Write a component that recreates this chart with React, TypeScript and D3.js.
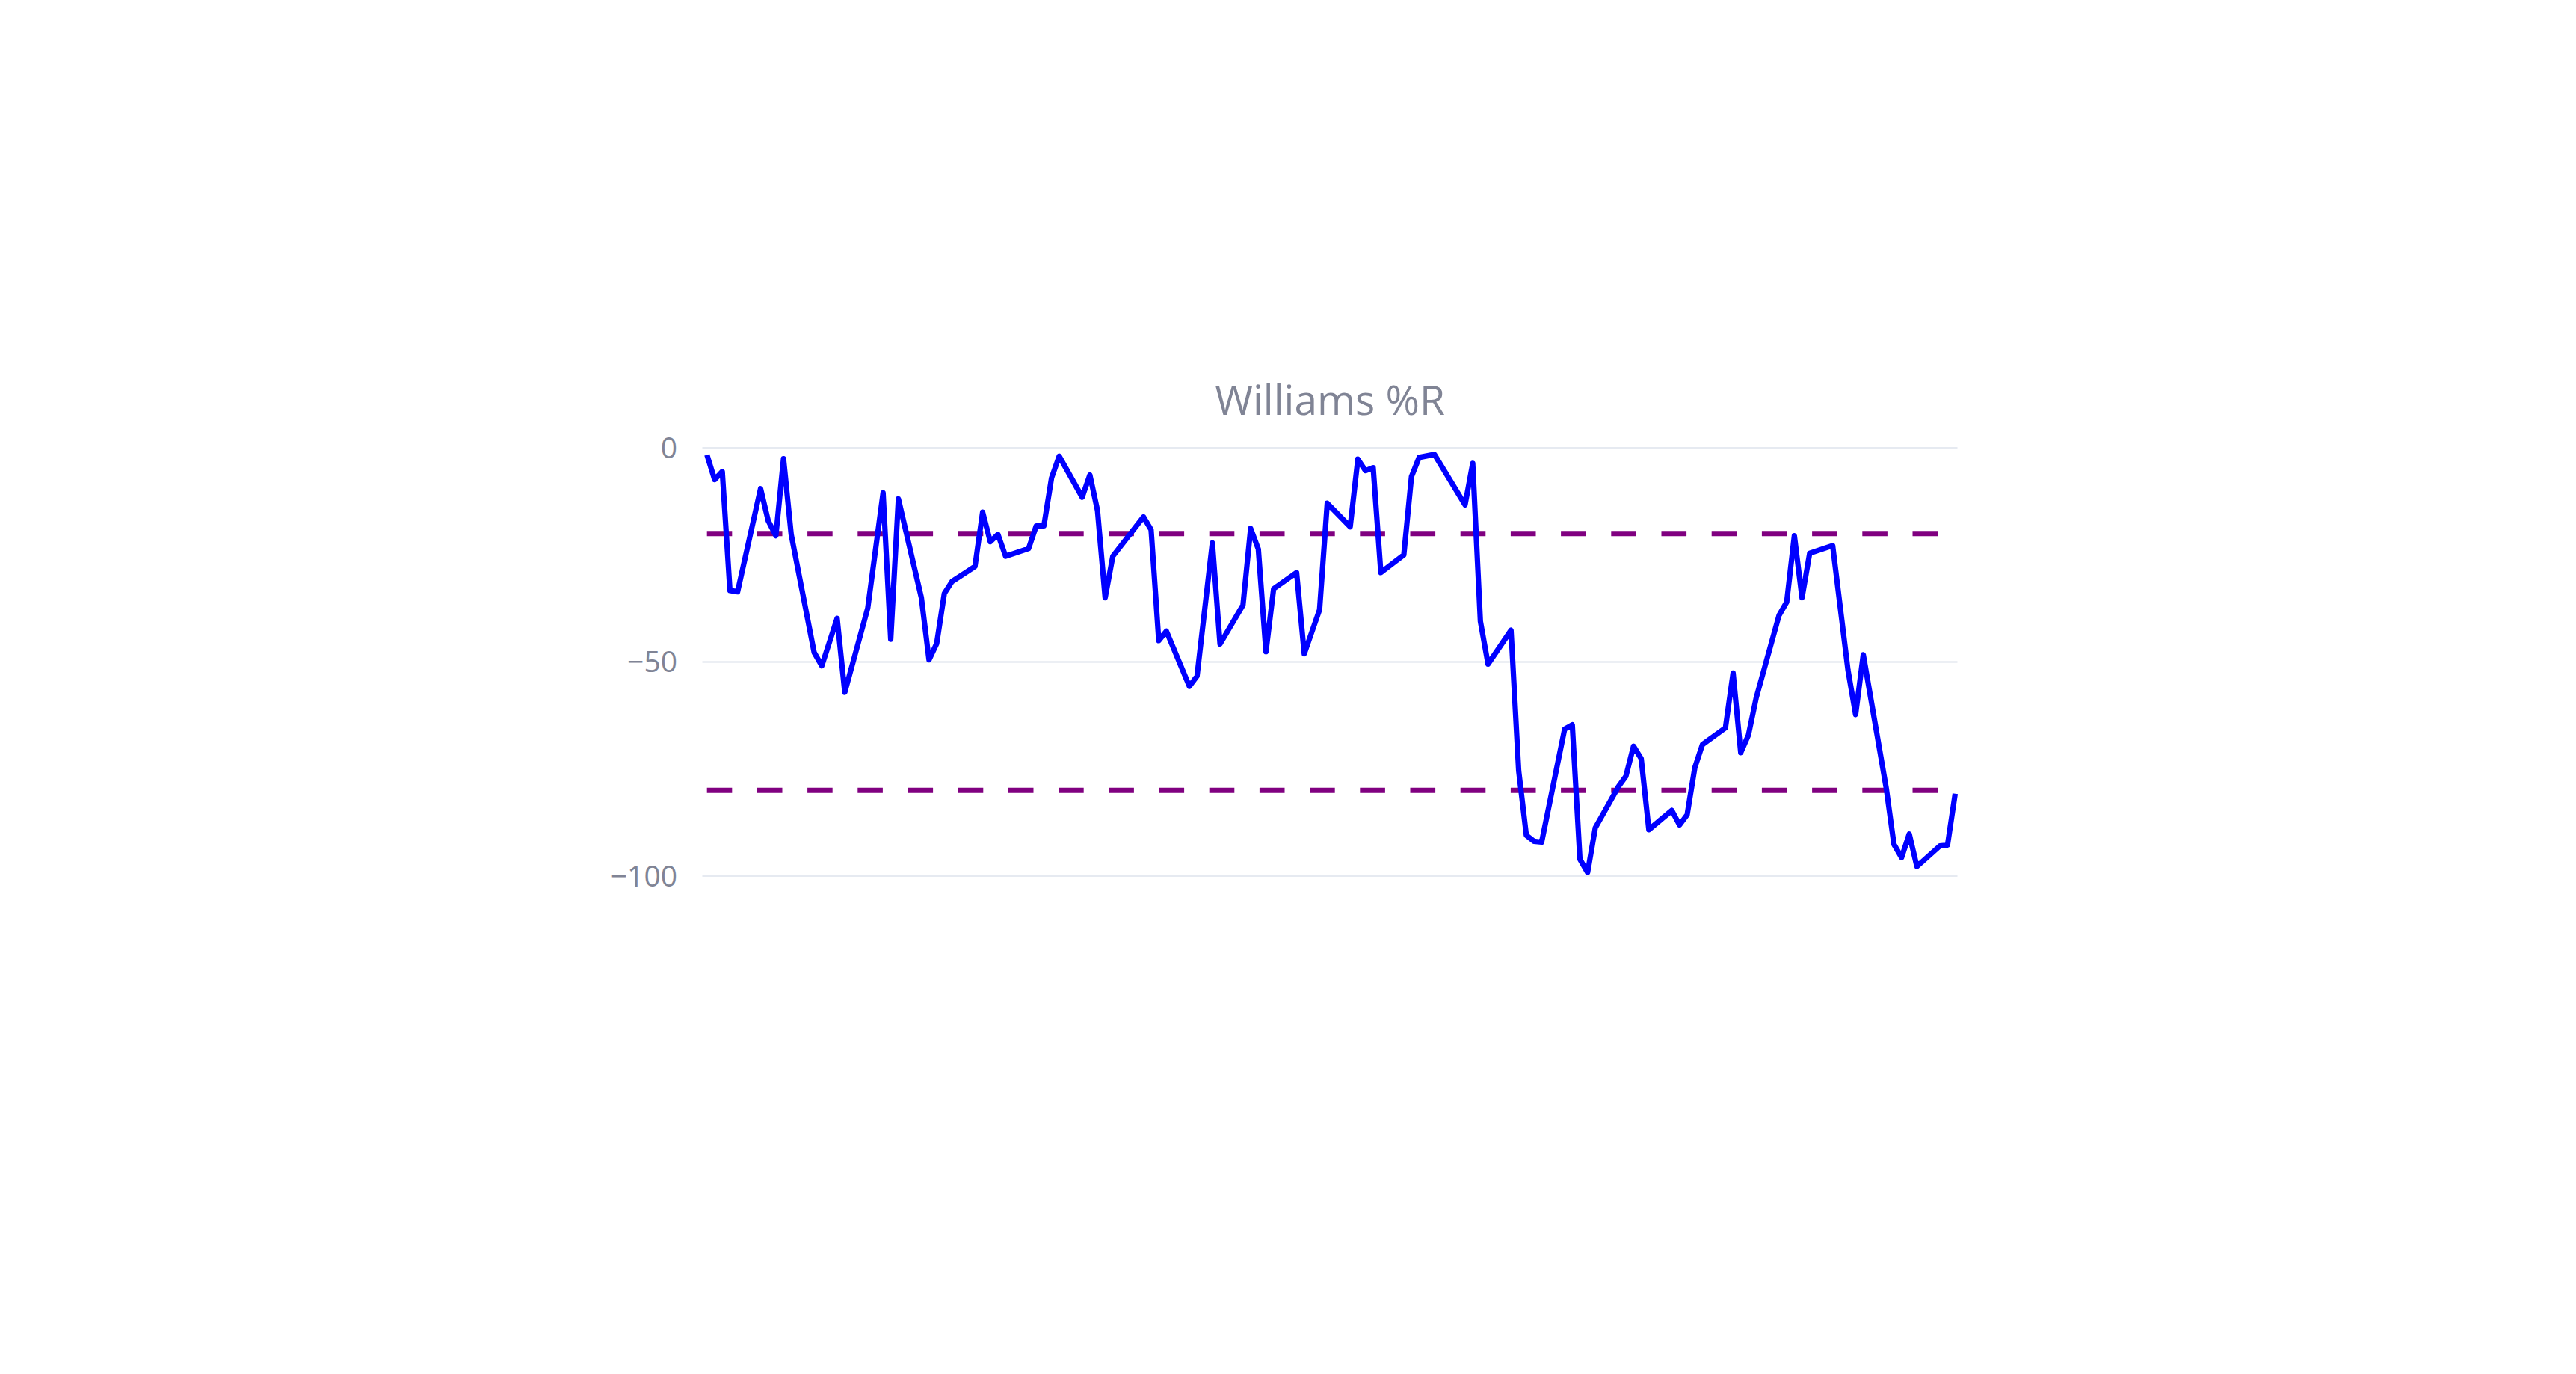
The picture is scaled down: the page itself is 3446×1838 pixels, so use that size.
import React from "react";
import * as d3 from "d3";

// ---- data ----
const START_DATE = "2023-01-02"; // a Monday; day offsets below are calendar days from it
const dayOffsets: number[] = [
  0, 1, 2, 3, 4, 7, 8, 9, 10, 11, 14, 15, 17, 18, 21, 23, 24, 25, 28, 29, 30, 31, 32,
  35, 36, 37, 38, 39, 42, 43, 44, 45, 46, 49, 50, 51, 52, 53, 57, 58, 59, 60, 63, 64,
  66, 67, 70, 71, 72, 73, 74, 77, 78, 80, 81, 84, 85, 86, 87, 88, 91, 92, 93, 95, 99,
  100, 101, 102, 105, 106, 107, 108, 109, 112, 113, 114, 115, 116, 119, 120, 121, 122,
  123, 126, 127, 128, 129, 130, 133, 134, 135, 136, 137, 140, 141, 142, 143, 144, 147,
  149, 150, 151, 154, 155, 156, 157, 158, 161, 162, 163,
];
const williamsR: number[] = [
  -1.6, -7.4, -5.5, -33.3, -33.6, -9.5, -17.0, -20.5, -2.5, -20.2, -47.8, -50.9, -39.8,
  -57.1, -37.4, -10.5, -44.7, -11.9, -35.0, -49.5, -45.7, -34.0, -31.2, -27.7, -15.0,
  -21.9, -20.2, -25.3, -23.5, -18.2, -18.2, -7.0, -1.9, -11.5, -6.3, -14.6, -35.0, -25.3,
  -16.1, -19.1, -45.0, -42.8, -55.7, -53.3, -22.2, -45.8, -36.7, -18.8, -23.6, -47.6,
  -32.9, -29.1, -48.1, -37.8, -12.9, -18.4, -2.6, -5.3, -4.6, -29.1, -25.0, -6.7, -2.2,
  -1.5, -13.3, -3.6, -40.5, -50.5, -42.6, -75.4, -90.5, -91.9, -92.1, -65.7, -64.7,
  -96.1, -99.2, -88.8, -79.2, -76.7, -69.7, -72.6, -89.2, -84.7, -88.1, -85.7, -74.7,
  -69.3, -65.4, -52.6, -71.2, -67.1, -58.5, -39.1, -36.0, -20.5, -35.0, -24.6, -22.8,
  -51.9, -62.3, -48.3, -79.5, -92.6, -95.7, -90.2, -97.8, -93.0, -92.8, -80.8,
];
const overbought = -20;
const oversold = -80;
const yTicks: number[] = [0, -50, -100];
const yDomain: [number, number] = [-100, 0];
const titleText = "Williams %R";

// ---- layout ----
const W = 3446;
const H = 1838;
const plot = { left: 939.5, right: 2618.5, top: 599.3, bottom: 1171.7 };
const dataLeft = 945.7;
const dataRight = 2615.5;
const FONT = "'Open Sans', 'Noto Sans', sans-serif";
const GRAY = "#808495";

export default function App() {
  const start = d3.timeParse("%Y-%m-%d")(START_DATE) as Date;
  const dates = dayOffsets.map((d) => d3.timeDay.offset(start, d));
  const points = dates.map((dt, i) => ({ date: dt, value: williamsR[i] }));

  const x = d3
    .scaleTime()
    .domain(d3.extent(dates) as [Date, Date])
    .range([dataLeft, dataRight]);
  const y = d3.scaleLinear().domain(yDomain).range([plot.bottom, plot.top]);

  const line = d3
    .line<{ date: Date; value: number }>()
    .x((d) => x(d.date))
    .y((d) => y(d.value));

  const fmt = d3.format("d");
  const tickFont = 39;

  return (
    <svg
      width={W}
      height={H}
      style={{ position: "absolute", left: 0, top: 0, display: "block", background: "#fff" }}
    >
      <rect x={0} y={0} width={W} height={H} fill="#ffffff" />
      {yTicks.map((t) => (
        <line
          key={"g" + t}
          x1={plot.left}
          x2={plot.right}
          y1={y(t)}
          y2={y(t)}
          stroke="#e6eaf1"
          strokeWidth={2.5}
        />
      ))}
      {yTicks.map((t) => (
        <text
          key={"t" + t}
          x={906}
          y={y(t) + tickFont * 0.357}
          textAnchor="end"
          fontFamily={FONT}
          fontSize={tickFont}
          fill={GRAY}
        >
          {fmt(t)}
        </text>
      ))}
      {[overbought, oversold].map((lvl) => (
        <line
          key={"h" + lvl}
          x1={x(dates[0])}
          x2={x(dates[dates.length - 1])}
          y1={y(lvl)}
          y2={y(lvl)}
          stroke="#800080"
          strokeWidth={7}
          strokeDasharray="33.6,33.6"
        />
      ))}
      <path
        d={line(points) || ""}
        fill="none"
        stroke="#0000ff"
        strokeWidth={7.2}
        strokeLinejoin="round"
      />
      <text
        x={(plot.left + plot.right) / 2}
        y={555}
        textAnchor="middle"
        fontFamily={FONT}
        fontSize={55}
        fill={GRAY}
      >
        {titleText}
      </text>
    </svg>
  );
}
